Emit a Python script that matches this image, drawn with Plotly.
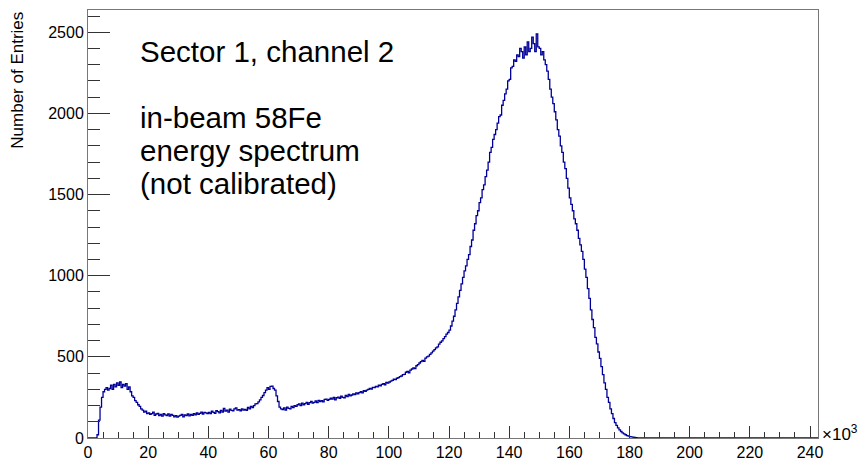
import plotly.graph_objects as go

# Histogram: bin width 500 (x in raw units), counts per bin
bin_width = 500
bin_start = 0
counts = [
    0, 0, 0, 0, 0, 0, 20, 110, 190, 250,
    285, 300, 310, 295, 305, 325, 300, 330, 315, 340,
    325, 345, 310, 330, 320, 335, 300, 315, 285, 260,
    250, 230, 220, 205, 195, 180, 172, 160, 165, 150,
    155, 145, 150, 160, 140, 148, 152, 138, 145, 135,
    150, 142, 138, 148, 135, 145, 140, 130, 138, 128,
    135, 140, 145, 130, 142, 138, 148, 136, 145, 140,
    150, 142, 155, 145, 152, 160, 148, 158, 155, 150,
    158, 150, 165, 158, 152, 168, 162, 155, 170, 160,
    182, 165, 172, 160, 178, 170, 168, 180, 185, 172,
    175, 168, 180, 172, 176, 170, 188, 180, 195, 188,
    200, 210, 212, 222, 235, 250, 262, 280, 295, 310,
    300, 318, 320, 305, 295, 260, 225, 190, 180, 175,
    185, 172, 190, 182, 180, 195, 188, 200, 195, 205,
    210, 200, 215, 205, 212, 220, 208, 218, 225, 215,
    220, 228, 218, 232, 225, 230, 222, 238, 240, 232,
    238, 245, 240, 250, 235, 248, 252, 245, 258, 250,
    248, 262, 255, 268, 260, 265, 272, 268, 278, 272,
    280, 285, 278, 292, 288, 295, 300, 305, 302, 312,
    310, 318, 315, 325, 322, 330, 335, 328, 342, 338,
    345, 350, 355, 362, 360, 368, 372, 378, 382, 390,
    392, 405, 410, 402, 418, 425, 432, 428, 445, 452,
    462, 470, 478, 472, 492, 500, 505, 515, 525, 535,
    545, 555, 562, 578, 590, 598, 612, 625, 640, 650,
    665, 690, 720, 750, 790, 830, 870, 910, 950, 990,
    1030, 1060, 1100, 1130, 1180, 1220, 1280, 1320, 1370, 1400,
    1450, 1480, 1530, 1560, 1610, 1650, 1700, 1760, 1790, 1840,
    1870, 1900, 1940, 1980, 1990, 2050, 2080, 2120, 2150, 2200,
    2210, 2280, 2290, 2330, 2320, 2360, 2350, 2400, 2380, 2340,
    2410, 2360, 2440, 2380, 2400, 2470, 2430, 2380, 2490, 2410,
    2400, 2360, 2380, 2330, 2300, 2260, 2210, 2150, 2100, 2060,
    2010, 1960, 1900, 1860, 1800, 1760, 1700, 1660, 1600, 1540,
    1480, 1440, 1400, 1350, 1320, 1280, 1230, 1190, 1150, 1100,
    1040, 990, 920, 860, 790, 730, 680, 620, 580, 530,
    490, 440, 390, 340, 300, 250, 220, 180, 150, 120,
    95, 78, 62, 50, 40, 32, 26, 20, 15, 12,
    9, 7, 5, 3, 2, 1, 1, 0, 0, 0,
]
x_max = 242660
y_max = 2637

x_tick_vals = [0, 20000, 40000, 60000, 80000, 100000, 120000, 140000,
               160000, 180000, 200000, 220000, 240000]
x_tick_text = ["0", "20", "40", "60", "80", "100", "120", "140",
               "160", "180", "200", "220", "240"]
y_tick_vals = [0, 500, 1000, 1500, 2000, 2500]

title_lines = ["Sector 1, channel 2", "in-beam 58Fe", "energy spectrum", "(not calibrated)"]
title_y = [0.902, 0.748, 0.6706, 0.5935]

# step outline
xs = [bin_start + i * bin_width for i in range(len(counts))]
xs.append(x_max)
ys = counts + [0]

fig = go.Figure()
fig.add_trace(go.Scatter(
    x=xs, y=ys, mode="lines", line_shape="hv",
    line=dict(color="#000099", width=1.3), hoverinfo="skip", showlegend=False,
))

axis_col = "#333333"
font_main = "Liberation Sans, Arial, sans-serif"

fig.update_layout(
    width=863, height=465,
    margin=dict(l=88, r=45, t=10, b=27),
    plot_bgcolor="white", paper_bgcolor="white",
    font=dict(family=font_main, size=16, color="black"),
    xaxis=dict(
        range=[0, x_max], showgrid=False, zeroline=False, automargin=False,
        showline=True, mirror=True, linecolor="#777777", linewidth=1,
        ticks="inside", ticklen=12, tickcolor=axis_col, tickwidth=1,
        tickvals=x_tick_vals, ticktext=x_tick_text,
        tickfont=dict(size=16),
        minor=dict(dtick=5000, ticks="inside", ticklen=6, tickcolor=axis_col, showgrid=False),
    ),
    yaxis=dict(
        range=[0, y_max], showgrid=False, zeroline=False, automargin=False,
        showline=True, mirror=True, linecolor="#777777", linewidth=1,
        ticks="inside", ticklen=22, tickcolor=axis_col, tickwidth=1,
        tickvals=y_tick_vals,
        tickfont=dict(size=16),
        minor=dict(dtick=100, ticks="inside", ticklen=12, tickcolor=axis_col, showgrid=False),
    ),
)

for txt, yy in zip(title_lines, title_y):
    fig.add_annotation(
        text=txt, xref="paper", yref="paper", x=0.068, y=yy,
        xanchor="left", yanchor="middle", showarrow=False,
        font=dict(size=29.5, family=font_main, color="black"),
    )

fig.add_annotation(
    text="Number of Entries", xref="paper", yref="paper",
    x=-0.097, y=1.0, xanchor="center", yanchor="top", textangle=-90,
    showarrow=False, font=dict(size=17, family=font_main, color="black"),
)

fig.add_annotation(
    text="×10<sup>3</sup>", xref="paper", yref="paper",
    x=1.003, y=0.012, xanchor="left", yanchor="middle",
    showarrow=False, font=dict(size=17, family=font_main, color="black"),
)

fig.write_html("out.html")
